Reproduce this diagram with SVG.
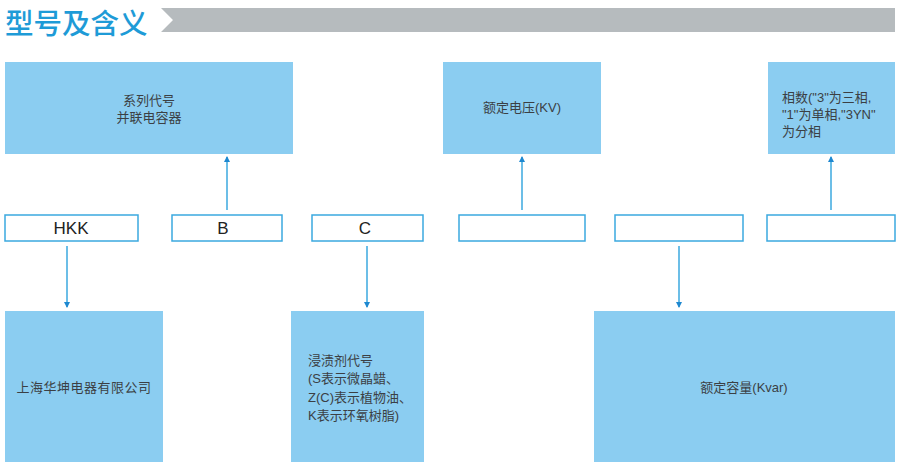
<svg xmlns="http://www.w3.org/2000/svg" width="900" height="470" viewBox="0 0 900 470">
<style>
.fill{fill:#8BCDF1;}
.code{fill:#fff;stroke:#3BA9DF;stroke-width:1.5;}
.t{font-family:"Liberation Sans","Noto Sans CJK SC",sans-serif;font-size:13px;fill:#3b3f44;}
.c{text-anchor:middle;}
.k{font-family:"Liberation Sans","Noto Sans CJK SC",sans-serif;font-size:17px;fill:#222;text-anchor:middle;}
.ln{stroke:#3BA9DF;stroke-width:1.5;fill:none;}
</style>
<defs>
<marker id="ah" viewBox="0 0 6 6" refX="5" refY="3" markerWidth="4" markerHeight="4" orient="auto" markerUnits="strokeWidth">
<path d="M0,0 L6,3 L0,6 z" fill="#1E88D0"/>
</marker>
</defs>
<g id="header">
<text x="5" y="33.5" font-family="Noto Sans CJK SC,sans-serif" font-size="28.5" font-weight="500" fill="#1E9BD7">型号及含义</text>
<polygon points="161,8 895,8 895,32 161,32 173,20" fill="#B6BBBE"/>
</g>
<g id="n-series">
<rect class="fill" x="5" y="62" width="288" height="92"/>
<text class="t c" x="149" y="105">系列代号</text>
<text class="t c" x="149" y="122">并联电容器</text>
</g>
<g id="n-voltage">
<rect class="fill" x="443" y="62" width="158" height="92"/>
<text class="t c" x="522" y="112">额定电压(KV)</text>
</g>
<g id="n-phase">
<rect class="fill" x="768" y="62" width="127" height="92"/>
<text class="t" x="782" y="102">相数("3"为三相,</text>
<text class="t" x="782" y="119">"1"为单相,"3YN"</text>
<text class="t" x="782" y="136">为分相</text>
</g>
<g id="c-hkk">
<rect class="code" x="5" y="215" width="133" height="26"/>
<text class="k" x="71" y="234">HKK</text>
</g>
<g id="c-b">
<rect class="code" x="172" y="215" width="110" height="26"/>
<text class="k" x="223" y="234">B</text>
</g>
<g id="c-c">
<rect class="code" x="312" y="215" width="111" height="26"/>
<text class="k" x="365" y="234">C</text>
</g>
<g id="c-4">
<rect class="code" x="459" y="215" width="126" height="26"/>
</g>
<g id="c-5">
<rect class="code" x="615" y="215" width="128" height="26"/>
</g>
<g id="c-6">
<rect class="code" x="767" y="215" width="128" height="26"/>
</g>
<g id="n-company">
<rect class="fill" x="5" y="311" width="158" height="151"/>
<text class="t c" x="84" y="392" letter-spacing="0.5">上海华坤电器有限公司</text>
</g>
<g id="n-impreg">
<rect class="fill" x="291" y="311" width="133" height="151"/>
<text class="t" x="308" y="365">浸渍剂代号</text>
<text class="t" x="308" y="383">(S表示微晶蜡、</text>
<text class="t" x="308" y="402">Z(C)表示植物油、</text>
<text class="t" x="308" y="420">K表示环氧树脂)</text>
</g>
<g id="n-capacity">
<rect class="fill" x="594" y="311" width="301" height="151"/>
<text class="t c" x="744" y="392">额定容量(Kvar)</text>
</g>
<g id="connectors">
<line class="ln" x1="67" y1="246" x2="67" y2="307" marker-end="url(#ah)"/>
<line class="ln" x1="227" y1="210" x2="227" y2="157" marker-end="url(#ah)"/>
<line class="ln" x1="367" y1="246" x2="367" y2="307" marker-end="url(#ah)"/>
<line class="ln" x1="522" y1="210" x2="522" y2="157" marker-end="url(#ah)"/>
<line class="ln" x1="679" y1="246" x2="679" y2="307" marker-end="url(#ah)"/>
<line class="ln" x1="831" y1="210" x2="831" y2="157" marker-end="url(#ah)"/>
</g>
</svg>
